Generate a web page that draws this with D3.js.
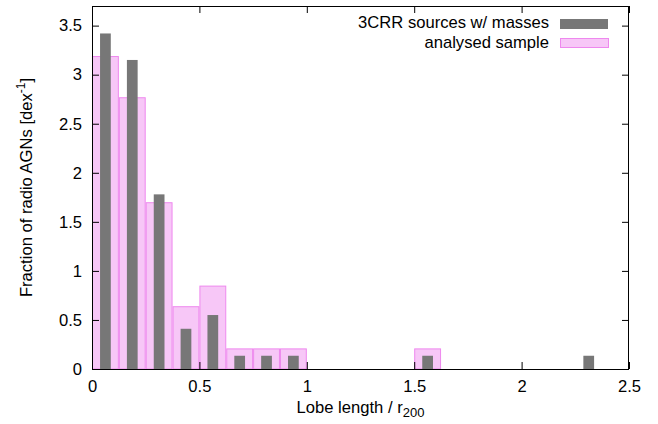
<!DOCTYPE html>
<html><head><meta charset="utf-8">
<script src="https://cdn.jsdelivr.net/npm/d3@7"></script>
<style>
body{margin:0;background:#fff;}
text{font-family:"Liberation Sans",Arial,sans-serif;}
</style></head>
<body><svg id="c" width="658" height="424"></svg>
<script>
// Data
const binWidth = 0.125;
const sampleBinStarts = [0, 0.125, 0.25, 0.375, 0.5, 0.625, 0.75, 0.875, 1.5];
const sampleValues    = [3.19, 2.77, 1.70, 0.64, 0.85, 0.21, 0.21, 0.21, 0.21];
const crrBinStarts = [0, 0.125, 0.25, 0.375, 0.5, 0.625, 0.75, 0.875, 1.5, 2.25];
const crrValues    = [3.42, 3.15, 1.78, 0.41, 0.55, 0.135, 0.135, 0.135, 0.135, 0.135];
const xTicks = [0, 0.5, 1, 1.5, 2, 2.5];
const yTicks = [0, 0.5, 1, 1.5, 2, 2.5, 3, 3.5];
const legendLabels = ["3CRR sources w/ masses", "analysed sample"];

const svg = d3.select("#c");
const L = 92, R = 629, T = 6, B = 369;
const x = d3.scaleLinear().domain([0, 2.5]).range([L, R]);
const y = d3.scaleLinear().domain([0, 3.7]).range([B, T]);
const fs = 16.6;
const pinkFill = "#f7c7f7", pinkStroke = "#ee88ee", grey = "#777777";
const grayW = 0.05;

// pink bars
svg.append("g").selectAll("rect").data(sampleBinStarts).join("rect")
  .attr("x", d => x(d) + 0.5)
  .attr("width", d => x(d + binWidth) - x(d) - 1)
  .attr("y", (d, i) => y(sampleValues[i]) + 0.5)
  .attr("height", (d, i) => y(0) - y(sampleValues[i]) - 0.5)
  .attr("fill", pinkFill).attr("stroke", pinkStroke).attr("stroke-width", 1);

// grey bars
svg.append("g").selectAll("rect").data(crrBinStarts).join("rect")
  .attr("x", d => x(d + binWidth / 2 - grayW / 2))
  .attr("width", d => x(grayW) - x(0))
  .attr("y", (d, i) => y(crrValues[i]))
  .attr("height", (d, i) => y(0) - y(crrValues[i]))
  .attr("fill", grey);

// axes
const fmt = d3.format("~g");
const gx = svg.append("g").attr("transform", `translate(0,${B})`)
  .call(d3.axisBottom(x).tickValues(xTicks).tickSize(-7).tickPadding(11).tickFormat(fmt));
const gy = svg.append("g").attr("transform", `translate(${L},0)`)
  .call(d3.axisLeft(y).tickValues(yTicks).tickSize(-7).tickPadding(10).tickFormat(fmt));
const gt = svg.append("g").attr("transform", `translate(0,${T})`)
  .call(d3.axisTop(x).tickValues(xTicks).tickSize(-7).tickFormat(""));
const gr = svg.append("g").attr("transform", `translate(${R},0)`)
  .call(d3.axisRight(y).tickValues(yTicks).tickSize(-7).tickFormat(""));
[gx, gy, gt, gr].forEach(g => {
  g.select(".domain").remove();
  g.selectAll("line").attr("stroke", "#000");
  g.selectAll("text").attr("font-size", fs).attr("font-family", '"Liberation Sans",Arial,sans-serif').attr("fill", "#000");
});
svg.append("rect").attr("x", L + 0.5).attr("y", T + 0.5).attr("width", R - L - 1).attr("height", B - T)
  .attr("fill", "none").attr("stroke", "#000").attr("stroke-width", 1);

// legend
const lg = svg.append("g");
lg.append("text").attr("x", 549).attr("y", 28).attr("text-anchor", "end").attr("font-size", fs).text(legendLabels[0]);
lg.append("rect").attr("x", 560).attr("y", 19).attr("width", 48).attr("height", 10).attr("fill", grey);
lg.append("text").attr("x", 549).attr("y", 48).attr("text-anchor", "end").attr("font-size", fs).text(legendLabels[1]);
lg.append("rect").attr("x", 560.5).attr("y", 38.5).attr("width", 48).attr("height", 9).attr("fill", pinkFill).attr("stroke", pinkStroke);

// axis titles
const xt = svg.append("text").attr("x", (L + R) / 2).attr("y", 413).attr("text-anchor", "middle").attr("font-size", fs);
xt.append("tspan").text("Lobe length / r");
xt.append("tspan").attr("font-size", 13).attr("dy", 4).text("200");

const yt = svg.append("text").attr("transform", `translate(32,${(T + B) / 2}) rotate(-90)`)
  .attr("text-anchor", "middle").attr("font-size", fs);
yt.append("tspan").text("Fraction of radio AGNs [dex");
yt.append("tspan").attr("font-size", 12).attr("dy", -7).text("-1");
yt.append("tspan").attr("dy", 7).text("]");
</script></body></html>
